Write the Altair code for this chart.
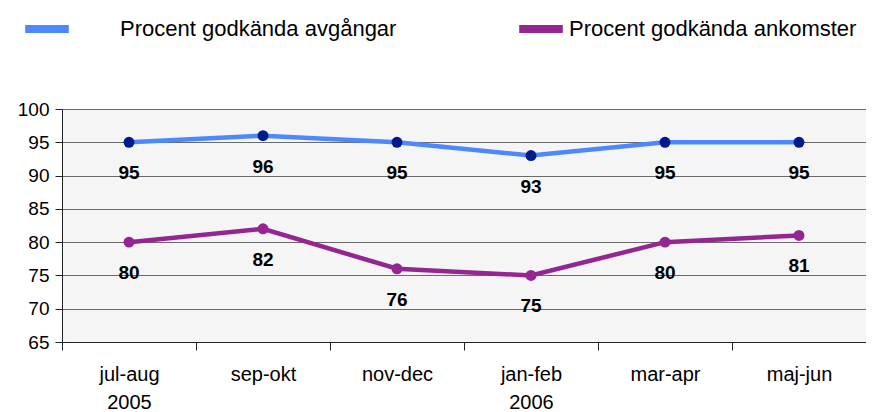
import altair as alt
import pandas as pd

periods = ["jul-aug\n2005", "sep-okt", "nov-dec", "jan-feb\n2006", "mar-apr", "maj-jun"]
avg_name = "Procent godkända avgångar"
ank_name = "Procent godkända ankomster"
avg_values = [95, 96, 95, 93, 95, 95]
ank_values = [80, 82, 76, 75, 80, 81]
y_ticks = [65, 70, 75, 80, 85, 90, 95, 100]

FONT = "Liberation Sans, Arial, sans-serif"

df_avg = pd.DataFrame({"period": periods, "value": avg_values, "serie": avg_name})
df_ank = pd.DataFrame({"period": periods, "value": ank_values, "serie": ank_name})

x_enc = alt.X("period:N", sort=periods, title=None,
              scale=alt.Scale(paddingInner=0, paddingOuter=0),
              axis=alt.Axis(labelAngle=0, tickBand="extent", grid=False,
                            labelExpr="split(datum.label, '\\n')",
                            labelFont=FONT, labelFontSize=20, labelColor="black",
                            labelLineHeight=28, labelBaseline="top",
                            tickSize=8, tickColor="#222", domainColor="#222",
                            labelPadding=14))
y_enc = alt.Y("value:Q", title=None,
              scale=alt.Scale(domain=[65, 100], nice=False, zero=False),
              axis=alt.Axis(values=y_ticks, grid=True, gridColor="#6a6a6a",
                            labelFont=FONT, labelFontSize=19, labelColor="black",
                            tickSize=7, tickColor="#222", domainColor="#222",
                            labelPadding=6))


def series(df, name, line_color, point_color, lx, loff):
    base = alt.Chart(df)
    line = base.mark_line(strokeWidth=4.5).encode(
        x=x_enc, y=y_enc,
        color=alt.Color("serie:N",
                        scale=alt.Scale(domain=[name], range=[line_color]),
                        legend=alt.Legend(title=None, orient="none", legendX=lx, legendY=-106,
                                          symbolType="stroke", symbolSize=1900,
                                          symbolStrokeWidth=8, labelOffset=loff,
                                          labelFont=FONT, labelFontSize=22,
                                          labelColor="black", padding=0,
                                          labelLimit=400)))
    pts = base.mark_circle(size=120, opacity=1, color=point_color).encode(x=x_enc, y=y_enc)
    txt = base.mark_text(dy=31, fontWeight="bold", fontSize=19, font=FONT,
                         color="black").encode(x=x_enc, y=y_enc, text="value:Q")
    return [line, pts, txt]


layers = series(df_avg, avg_name, "#4d88ff", "#001a8c", -41, 47) + \
         series(df_ank, ank_name, "#952592", "#952592", 453, 2)

chart = alt.layer(*layers).resolve_scale(color="independent").properties(
    width=804, height=233,
    autosize=alt.AutoSizeParams(type="none"),
    padding={"left": 54, "top": 101, "right": 0, "bottom": 72},
).configure_view(fill="#f5f5f5", strokeOpacity=0)

chart.save("out.html", embed_options={"renderer": "svg", "actions": False})
